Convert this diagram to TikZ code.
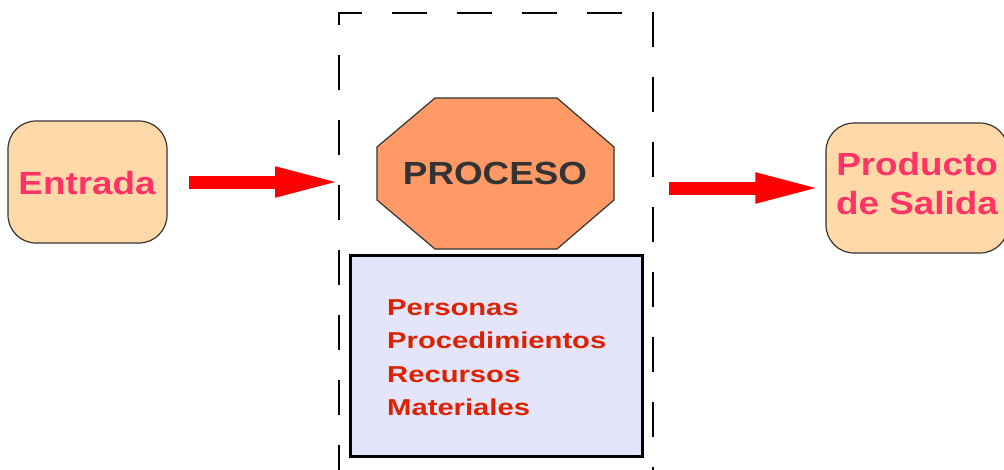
\documentclass[tikz,border=0pt]{standalone}
\usepackage{fontspec}
\usetikzlibrary{arrows.meta}
\newfontfamily\hvw[FakeStretch=1.15]{Liberation Sans}
\newfontfamily\hvl[FakeStretch=1.27]{Liberation Sans}
\definecolor{peach}{RGB}{255,218,168}
\definecolor{pinkred}{RGB}{255,51,102}
\definecolor{octfill}{RGB}{255,153,102}
\definecolor{lav}{RGB}{228,228,250}
\definecolor{listred}{RGB}{221,34,0}
\definecolor{darkgray}{RGB}{51,51,51}
\tikzset{
  endbox/.style={draw=black!80, line width=1.2pt, fill=peach, rounded corners=28pt, inner sep=0pt},
  endtext/.style={text=pinkred, font=\hvw\bfseries\fontsize{32}{39}\selectfont, align=center, inner sep=0pt},
  bigarrow/.style={draw=red, line width=13pt, -{Triangle[length=68pt,width=27pt,fill=red]}},
  framedash/.style={draw=black, line width=1.4pt, dash pattern=on 35pt off 30pt},
  octstyle/.style={draw=black!80, line width=1.2pt, fill=octfill},
  resbox/.style={draw=black, line width=3pt, fill=lav, minimum width=292pt, minimum height=201pt, inner sep=0pt},
  listtext/.style={text=listred, font=\hvl\bfseries\fontsize{23}{33}\selectfont, inner sep=0pt, anchor=base west},
}
\begin{document}
\begin{tikzpicture}[x=1pt,y=-1pt]
\clip (0,0) rectangle (1004,469);
\fill[white] (0,0) rectangle (1004,469);
% frame
\coordinate (fbl) at (339,480);
\coordinate (ftl) at (339,13);
\coordinate (ftr) at (653,13);
\coordinate (fbr) at (653,480);
\draw[framedash] (fbl) -- (ftl) -- (ftr) -- (fbr);
% end boxes
\node[endbox, minimum width=159pt, minimum height=122pt] (entrada) at (87.5,182) {};
\node[endtext] (entradat) at (87,183.5) {Entrada};
\node[endbox, minimum width=182pt, minimum height=130pt] (producto) at (917,188) {};
\node[endtext] (productot) at (917,184) {Producto\\de Salida};
% octagon
\draw[octstyle] (435,98) -- (557,98) -- (614,147) -- (614,200) -- (557,249) -- (435,249) -- (377,200) -- (377,147) -- cycle;
\node[text=darkgray, font=\hvw\bfseries\fontsize{32}{39}\selectfont, inner sep=0pt] (proceso) at (495,173.5) {PROCESO};
% resources box
\node[resbox] (recursos) at (496,355.5) {};
\node[listtext] (l1) at (387,315) {Personas};
\node[listtext] (l2) at (387,348.5) {Procedimientos};
\node[listtext] (l3) at (387,382) {Recursos};
\node[listtext] (l4) at (387,415) {Materiales};
% arrows
\draw[bigarrow, shorten <=21pt, shorten >=-4pt] (entrada.east) -- (entrada.east -| ftl);
\draw[bigarrow, shorten <=16pt, shorten >=2pt] (producto.west -| ftr) -- (producto.west);
\end{tikzpicture}
\end{document}
